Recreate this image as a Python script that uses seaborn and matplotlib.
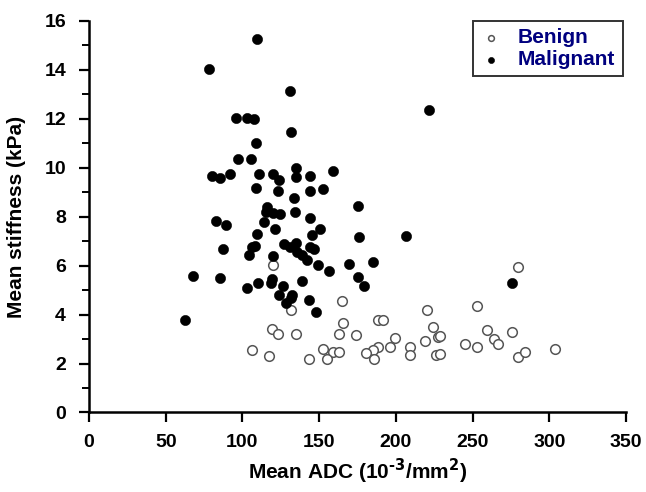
import pandas as pd
import matplotlib
matplotlib.use("Agg")
import matplotlib.pyplot as plt
import seaborn as sns

# Benign lesions: mean ADC and mean stiffness
benign_adc = [106, 119.7, 131.5, 165.1, 165.4, 119.5, 123.4, 134.9, 163, 173.9,
              117.1, 143.4, 152.3, 159.1, 163.2, 155.3, 279.5, 220.1, 253.1, 188.2,
              191.7, 224, 227.3, 229, 259.3, 264.2, 266.8, 276, 219, 199.5,
              196, 188.2, 185.3, 180.4, 186, 209.5, 209.5, 226, 229, 245.3,
              253.1, 279.5, 284, 303.6]
benign_stiff = [2.55, 6.01, 4.2, 4.55, 3.64, 3.41, 3.19, 3.19, 3.19, 3.15,
                2.31, 2.2, 2.59, 2.48, 2.48, 2.2, 5.95, 4.18, 4.36, 3.78,
                3.78, 3.49, 3.07, 3.11, 3.35, 3.0, 2.8, 3.29, 2.9, 3.03,
                2.69, 2.69, 2.55, 2.42, 2.2, 2.69, 2.36, 2.33, 2.38, 2.8,
                2.69, 2.27, 2.48, 2.59]

# Malignant lesions
malig_adc = [78.4, 109.3, 95.8, 103.2, 107.8, 108.9, 97.3, 105.4, 80, 85.6,
             91.7, 110.5, 108.9, 83, 89.3, 87.6, 67.6, 85.4, 62.4, 104.3,
             108.2, 106.5, 109.3, 103.2, 110.4, 119.7, 124, 135.1, 135.1, 144,
             159, 123.4, 133.4, 144, 152.5, 175.2, 115.8, 115.4, 120.1, 124.5,
             134.1, 144, 114.3, 121.3, 150.4, 145.2, 176.2, 119.7, 127.3, 131,
             134.9, 135.8, 138.7, 142.1, 144.3, 146.5, 149.3, 156.5, 169.3, 175.2,
             119.1, 118.9, 126.3, 138.7, 124, 132.3, 131.7, 128.4, 143.2, 147.9,
             130.8, 131.7, 221.6, 206.6, 185.3, 179.3, 275.6]
malig_stiff = [14.02, 15.24, 12.02, 12.02, 11.98, 11.01, 10.37, 10.35, 9.67, 9.58,
               9.76, 9.75, 9.18, 7.83, 7.65, 6.67, 5.58, 5.48, 3.78, 6.43,
               6.8, 6.74, 7.29, 5.07, 5.27, 9.76, 9.48, 9.99, 9.62, 9.67,
               9.87, 9.05, 8.78, 9.03, 9.13, 8.43, 8.4, 8.18, 8.13, 8.11,
               8.2, 7.95, 7.78, 7.49, 7.49, 7.24, 7.18, 6.39, 6.88, 6.77,
               6.91, 6.54, 6.43, 6.22, 6.77, 6.66, 6.01, 5.76, 6.06, 5.54,
               5.45, 5.3, 5.16, 5.38, 4.78, 4.78, 4.66, 4.47, 4.58, 4.09,
               13.13, 11.46, 12.35, 7.2, 6.13, 5.18, 5.27]

benign = pd.DataFrame({"adc": benign_adc, "stiffness": benign_stiff})
malignant = pd.DataFrame({"adc": malig_adc, "stiffness": malig_stiff})

sns.set_style("ticks")
plt.rcParams["font.family"] = ["Liberation Sans", "DejaVu Sans"]
plt.rcParams["font.weight"] = "bold"
plt.rcParams["mathtext.default"] = "bf"
for key in ["text.color", "axes.labelcolor", "xtick.color", "ytick.color"]:
    plt.rcParams[key] = "black"

fig = plt.figure(figsize=(6.46, 4.92), dpi=100)
ax = fig.add_axes([0.1378, 0.1616, 0.8312, 0.7963])

sns.scatterplot(data=benign, x="adc", y="stiffness", ax=ax, s=48,
                facecolor="white", edgecolor="#555555", linewidth=1.1,
                label="Benign")
sns.scatterplot(data=malignant, x="adc", y="stiffness", ax=ax, s=54,
                color="black", edgecolor="black", linewidth=0.4,
                label="Malignant")

ax.set_xlim(0, 350)
ax.set_ylim(0, 16)
ax.set_xticks(range(0, 351, 50))
ax.set_yticks(range(0, 17, 2))
ax.set_yticks(range(1, 16, 2), minor=True)
sns.despine(ax=ax)
for side in ["left", "bottom"]:
    ax.spines[side].set_linewidth(1.8)
    ax.spines[side].set_color("black")
ax.tick_params(axis="both", which="major", length=7.5, width=1.6,
               labelsize=14, direction="out")
ax.tick_params(axis="x", which="major", pad=8)
ax.tick_params(axis="y", which="major", pad=9)
ax.tick_params(axis="y", which="minor", length=5, width=1.4)
for lab in ax.get_xticklabels() + ax.get_yticklabels():
    lab.set_fontweight("bold")

ax.set_xlabel("Mean ADC (10$^{\\text{-}3}$/mm$^{2}$)", fontsize=15,
              fontweight="bold", va="center")
ax.set_ylabel("Mean stiffness (kPa)", fontsize=15, fontweight="bold",
              va="center")
ax.xaxis.set_label_coords(0.5, -0.15)
ax.yaxis.set_label_coords(-0.135, 0.5)

leg = ax.legend(loc="upper right", bbox_to_anchor=(0.994, 1.0),
                borderaxespad=0, frameon=True, fancybox=False,
                edgecolor="black", markerscale=0.6, fontsize=15,
                handletextpad=0.8, labelspacing=0.15, borderpad=0.35,
                handlelength=1.0)
leg.get_frame().set_linewidth(1.4)
for t in leg.get_texts():
    t.set_color("#00007f")
    t.set_fontweight("bold")

fig.savefig("out.png", dpi=100)
